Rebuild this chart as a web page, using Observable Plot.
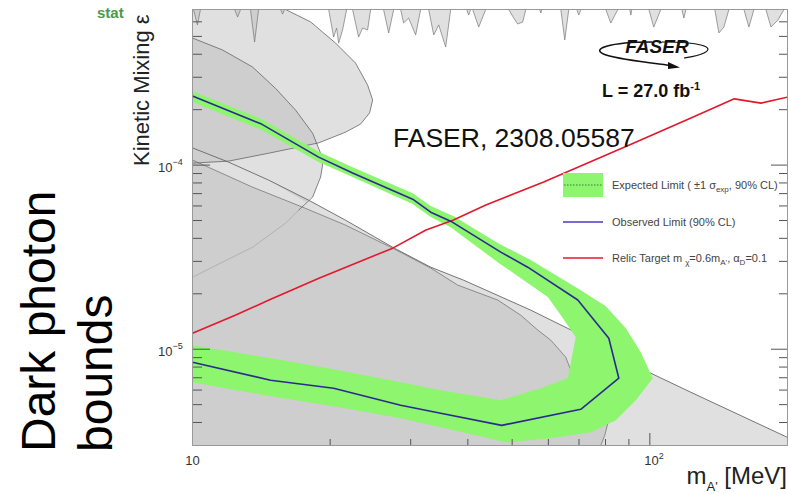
<!DOCTYPE html>
<html><head><meta charset="utf-8">
<script src="https://cdn.jsdelivr.net/npm/d3@7"></script>
<script src="https://cdn.jsdelivr.net/npm/@observablehq/plot@0.6"></script>
<style>
html,body{margin:0;padding:0;background:#fff;}
#chart{position:relative;width:788px;height:494px;overflow:hidden;}
</style></head><body><div id="chart"></div>
<script>
// ---- data (m_A' in MeV, epsilon) ----
const T = 7e-4; // top of the y range
const observedMass = [10, 14.16, 18.87, 22.39, 30.30, 33.18, 36.69, 47.21, 54.08, 69.58, 81.34, 85.55, 70.63, 47.45, 34.89, 28.52, 20.35, 14.82, 10];
const observedEps  = [2.37e-4, 1.67e-4, 1.105e-4, 9.05e-5, 6.53e-5, 5.55e-5, 4.96e-5, 3.37e-5, 2.79e-5, 1.85e-5, 1.148e-5, 6.96e-6, 4.72e-6, 3.86e-6, 4.49e-6, 4.96e-6, 6.14e-6, 6.79e-6, 8.50e-6];

const relicMass = [10, 12.4, 14.7, 18.9, 27.4, 32.4, 37.1, 43.8, 58.6, 92.3, 123, 153, 175, 200];
const relicEps  = [1.22e-5, 1.53e-5, 1.85e-5, 2.43e-5, 3.54e-5, 4.44e-5, 5.02e-5, 6.07e-5, 8.09e-5, 1.32e-4, 1.80e-4, 2.29e-4, 2.17e-4, 2.34e-4];

// expected limit +-1 sigma band (closed contour)
const expectedBand = [
  [10,2.52e-4],[14.16,1.78e-4],[18.87,1.18e-4],[22.39,9.75e-5],[30.30,7.04e-5],[33.18,5.99e-5],[37.25,5.28e-5],[46.50,3.77e-5],[54.92,3.05e-5],[70.63,2.09e-5],[80.11,1.71e-5],[88.63,1.30e-5],[95.56,9.63e-6],[101.5,6.96e-6],
  [93.19,5.28e-6],[84.26,4.11e-6],[74.28,3.54e-6],[60.74,3.28e-6],[48.42,3.12e-6],[43.77,3.32e-6],[28.52,4.22e-6],[20.35,4.90e-6],[14.82,5.55e-6],[10,6.62e-6],
  [10,1.05e-5],[14.82,8.93e-6],[20.35,7.78e-6],[28.52,6.62e-6],[34.89,5.99e-6],[47.21,5.28e-6],[57.76,6.14e-6],[66.14,6.96e-6],[68.87,1.16e-5],
  [63.89,1.53e-5],[59.83,1.92e-5],[46.50,2.97e-5],[36.69,4.60e-5],[33.18,5.22e-5],[30.30,6.14e-5],[22.39,8.61e-5],[18.87,1.038e-4],[14.16,1.55e-4],[10,2.20e-4]
];

// existing constraints (grey)
const shapeA = [[10,T],[15.98,T],[18.13,5.99e-4],[20.55,4.60e-4],[22.73,3.58e-4],[24.15,2.72e-4],[24.77,2.26e-4],[24.39,1.92e-4],[23.31,1.67e-4],[21.61,1.51e-4],[18.87,1.32e-4],[14.67,1.16e-4],[11.99,1.051e-4],[10,1.025e-4]];
const shapeB = [[10,4.90e-4],[11.63,4.22e-4],[13.53,3.41e-4],[15.19,2.61e-4],[16.80,1.99e-4],[18.31,1.49e-4],[19.06,1.16e-4],[19.25,1.00e-4],[19.06,8.61e-5],[18.31,6.70e-5],[17.06,5.69e-5],[15.98,4.84e-5],[13.53,3.58e-5],[11.63,2.97e-5],[10,2.46e-5]];
// part of shape B lying above the straight boundary (filled), closing along that boundary
const shapeBUpper = [[10,4.90e-4],[11.63,4.22e-4],[13.53,3.41e-4],[15.19,2.61e-4],[16.80,1.99e-4],[18.31,1.49e-4],[19.06,1.16e-4],[19.25,1.00e-4],[19.06,8.61e-5],[18.31,6.70e-5],[17.70,6.30e-5],[14.67,8.29e-5],[11.99,1.038e-4],[10,1.24e-4]];
const regionC = [[10,1.24e-4],[11.99,1.038e-4],[14.67,8.29e-5],[17.94,6.45e-5],[21.61,5.02e-5],[27.39,3.58e-5],[33.18,2.79e-5],[39.18,2.37e-5],[54.92,1.63e-5],[69.58,1.22e-5],[100.5,7.41e-6],[122.9,5.84e-6],[200,3.32e-6],[200,3e-6],[10,3e-6]];
const regionE = [[10,1.065e-4],[13.53,7.59e-5],[17.41,5.91e-5],[21.61,4.72e-5],[27.39,3.54e-5],[33.18,2.76e-5],[38.01,2.23e-5],[46.50,1.85e-5],[52.21,1.53e-5],[56.89,1.27e-5],[60.74,1.12e-5],[65.48,9.05e-6],[67.84,7.22e-6],[72.44,5.62e-6],[78.12,4.66e-6],[80.93,3.96e-6],[79.71,3.41e-6],[78.12,3e-6],[10,3e-6]];
const topSpikes = [
  [10,T],[10.05,T],[10.25,5.77e-4],[10.41,T],[12.36,T],[12.55,6.37e-4],[12.74,T],[13.39,T],[13.67,4.66e-4],[13.95,T],
  [15.58,T],[15.74,6.61e-4],[15.90,T],[19.85,T],[20.35,4.96e-4],[20.66,5.55e-4],[20.87,4.60e-4],[21.29,5.42e-4],[21.73,T],
  [22.39,T],[23.08,4.96e-4],[23.55,5.55e-4],[24.15,5.42e-4],[24.52,T],[26.17,T],[26.85,5.22e-4],[27.54,T],
  [28.52,T],[28.95,5.91e-4],[29.69,6.29e-4],[30.76,5.09e-4],[31.54,T],[32.84,T],[33.69,5.09e-4],[34.54,5.77e-4],[35.78,4.38e-4],[36.69,T],
  [39.78,T],[40.17,6.53e-4],[40.58,T],[40.99,T],[42.25,5.62e-4],[43.77,T],[49.15,T],[50.40,6.29e-4],[51.42,5.84e-4],[52.74,5.99e-4],[53.55,T],
  [57.44,T],[57.76,6.70e-4],[58.03,T],[63.89,T],[65.16,4.78e-4],[66.49,T],[69.23,T],[69.93,6.53e-4],[70.63,T],
  [80.11,T],[82.17,5.91e-4],[85.11,T],[90.42,T],[90.88,6.53e-4],[91.34,T],[99.5,T],[102.0,5.62e-4],[105.7,T],
  [117.5,T],[118.7,6.29e-4],[119.9,T],[138.7,T],[141.6,5.22e-4],[145.2,5.62e-4],[148.9,T],[160.6,T],[164.7,5.62e-4],[168.9,T],
  [179.4,T],[184.0,5.62e-4],[190.6,6.14e-4],[196.5,T],[200,T]
];

// ticks and tick labels
const yLabelTicks = [1e-5, 1e-4];
const yTickExponents = ["\u22125", "\u22124"];
const yMinorTicks = [4e-6,5e-6,6e-6,7e-6,8e-6,9e-6,2e-5,3e-5,4e-5,5e-5,6e-5,7e-5,8e-5,9e-5,2e-4,3e-4,4e-4,5e-4,6e-4];
const xPlainTicks = [10];          // labelled "10"
const xPowerTicks = [100];         // labelled "10^2"
const xPowerExponents = ["2"];
const xMinorTicks = [20,30,40,50,60,70,80,90];
const xMajorTicks = [100];

// ---- drawing ----
const FONT = "'Liberation Sans', Arial, Helvetica, sans-serif";
const GREEN = "#8ef56f", BLUE = "#2b2a90", RED = "#e3182d";
const P = arr => arr.map(([m, e]) => ({m, e}));
const Z = (ms, es) => ms.map((m, i) => ({m, e: es[i]}));
const greyPoly = arr => Plot.line(P(arr), {x: "m", y: "e", fill: "#b4b4b4", fillOpacity: 0.42, stroke: "none", clip: true});
const outline = (arr, color, w) => Plot.line(P(arr), {x: "m", y: "e", stroke: color, strokeWidth: w, clip: true});

const chart = Plot.plot({
  width: 788, height: 494,
  marginLeft: 192, marginRight: 1, marginTop: 9, marginBottom: 49,
  style: {fontFamily: FONT, fontSize: "13px", color: "#333", background: "#fff", overflow: "visible"},
  x: {type: "log", domain: [10, 200], axis: null},
  y: {type: "log", domain: [3e-6, 7e-4], axis: null},
  marks: [
    greyPoly(regionC), greyPoly(regionE), greyPoly(shapeA), greyPoly(shapeBUpper), greyPoly(topSpikes),
    outline(regionC.slice(0, 13), "#666", 0.9),
    outline(regionE.slice(0, 18), "#777", 0.8),
    outline(shapeA.slice(1), "#666", 0.8),
    outline(shapeB.slice(0, 11), "#666", 0.8),
    outline(shapeB.slice(10), "#aaa", 0.8),
    outline(topSpikes, "#777", 0.7),
    Plot.line(P(expectedBand), {x: "m", y: "e", fill: GREEN, stroke: "none", clip: true}),
    Plot.line(Z(relicMass, relicEps), {x: "m", y: "e", stroke: RED, strokeWidth: 1.6, clip: true}),
    Plot.line(Z(observedMass, observedEps), {x: "m", y: "e", stroke: BLUE, strokeWidth: 1.6, clip: true}),
    Plot.tickY(yMinorTicks, {y: d => d, insetRight: 585, stroke: "#555"}),
    Plot.tickY(yLabelTicks, {y: d => d, insetRight: 577, stroke: "#555"}),
    Plot.tickY(yMinorTicks, {y: d => d, insetLeft: 587, stroke: "#555"}),
    Plot.tickY(yLabelTicks, {y: d => d, insetLeft: 579, stroke: "#555"}),
    Plot.tickX(xMinorTicks, {x: d => d, insetTop: 430, stroke: "#555"}),
    Plot.tickX(xMajorTicks, {x: d => d, insetTop: 424, stroke: "#555"}),
    Plot.frame({stroke: "#999"}),
    // y tick labels: 10 with superscript exponent
    Plot.text(yLabelTicks, {y: d => d, frameAnchor: "left", dx: -20, dy: 3, textAnchor: "end", text: () => "10", fontSize: 13, fill: "#333"}),
    Plot.text(yLabelTicks, {y: d => d, frameAnchor: "left", dx: -20, dy: -3, textAnchor: "start", text: (d, i) => yTickExponents[i], fontSize: 9, fill: "#333"}),
    // x tick labels
    Plot.text(xPlainTicks, {x: d => d, frameAnchor: "bottom", dy: 19, textAnchor: "middle", text: () => "10", fontSize: 13, fill: "#333"}),
    Plot.text(xPowerTicks, {x: d => d, frameAnchor: "bottom", dx: 9, dy: 19, textAnchor: "end", text: () => "10", fontSize: 13, fill: "#333"}),
    Plot.text(xPowerTicks, {x: d => d, frameAnchor: "bottom", dx: 9, dy: 13, textAnchor: "start", text: (d, i) => xPowerExponents[i], fontSize: 9, fill: "#333"})
  ]
});
document.getElementById("chart").appendChild(chart);

// ---- annotations ----
const svg = d3.select(chart);
const ann = svg.append("g").attr("font-family", FONT).attr("text-anchor", "start");

// big rotated text
const dp = ann.append("text").attr("transform", "translate(55,452) rotate(-90)")
  .attr("font-size", 48).attr("fill", "#000");
dp.append("tspan").attr("x", 0).attr("dy", 0).text("Dark photon");
dp.append("tspan").attr("x", 0).attr("dy", 57).text("bounds");

// stat
ann.append("text").attr("x", 97).attr("y", 18).attr("font-size", 15).attr("font-weight", "bold")
  .attr("fill", "#4c9a4c").text("stat");

// y title
ann.append("text").attr("transform", "translate(148.5,166) rotate(-90)")
  .attr("font-size", 22).attr("fill", "#222").text("Kinetic Mixing \u03B5");

// x title
const xt = ann.append("text").attr("x", 787).attr("y", 484).attr("text-anchor", "end")
  .attr("font-size", 24).attr("fill", "#222");
xt.append("tspan").text("m");
xt.append("tspan").attr("font-size", 13).attr("dy", 7).text("A'");
xt.append("tspan").attr("dy", -7).text(" [MeV]");

// FASER reference
ann.append("text").attr("x", 393).attr("y", 147).attr("font-size", 26.5).attr("fill", "#111")
  .text("FASER, 2308.05587");

// FASER logo
ann.append("path").attr("d", "M 652 42 C 610 42, 588 49, 606 55 C 622 60, 652 63, 674 66")
  .attr("fill", "none").attr("stroke", "#111").attr("stroke-width", 1.6);
ann.append("path").attr("d", "M 662 42 C 700 42, 716 47, 704 53 C 698 56, 690 57, 684 58")
  .attr("fill", "none").attr("stroke", "#111").attr("stroke-width", 1.2);
ann.append("path").attr("d", "M 668 62 L 680 67.5 L 668 69 Z").attr("fill", "#111");
ann.append("text").attr("x", 657).attr("y", 53).attr("text-anchor", "middle").attr("font-size", 19)
  .attr("font-weight", "bold").attr("font-style", "italic").attr("fill", "#111").text("FASER");
const lum = ann.append("text").attr("x", 602).attr("y", 97).attr("font-size", 18).attr("font-weight", "bold").attr("fill", "#111");
lum.append("tspan").text("L = 27.0 fb");
lum.append("tspan").attr("font-size", 11).attr("dy", -7).text("-1");

// legend
const lg = ann.append("g").attr("font-size", 11).attr("fill", "#444");
lg.append("rect").attr("x", 563).attr("y", 173).attr("width", 40).attr("height", 24).attr("fill", GREEN);
lg.append("line").attr("x1", 564).attr("x2", 602).attr("y1", 185).attr("y2", 185)
  .attr("stroke", "#3a7a3a").attr("stroke-width", 1).attr("stroke-dasharray", "1.5,1.5");
lg.append("line").attr("x1", 563).attr("x2", 603).attr("y1", 222).attr("y2", 222).attr("stroke", "#4a38c0").attr("stroke-width", 1.6);
lg.append("line").attr("x1", 563).attr("x2", 603).attr("y1", 258).attr("y2", 258).attr("stroke", RED).attr("stroke-width", 1.6);
const l1 = lg.append("text").attr("x", 612).attr("y", 189);
l1.append("tspan").text("Expected Limit ( \u00B11 \u03C3");
l1.append("tspan").attr("font-size", 8).attr("dy", 3).text("exp");
l1.append("tspan").attr("dy", -3).text(", 90% CL)");
lg.append("text").attr("x", 612).attr("y", 226).text("Observed Limit (90% CL)");
const l3 = lg.append("text").attr("x", 612).attr("y", 262);
l3.append("tspan").text("Relic Target m ");
l3.append("tspan").attr("font-size", 8).attr("dy", 3).text("\u03C7");
l3.append("tspan").attr("dy", -3).text("=0.6m");
l3.append("tspan").attr("font-size", 8).attr("dy", 3).text("A'");
l3.append("tspan").attr("dy", -3).text(", \u03B1");
l3.append("tspan").attr("font-size", 8).attr("dy", 3).text("D");
l3.append("tspan").attr("dy", -3).text("=0.1");
</script>
</body></html>
